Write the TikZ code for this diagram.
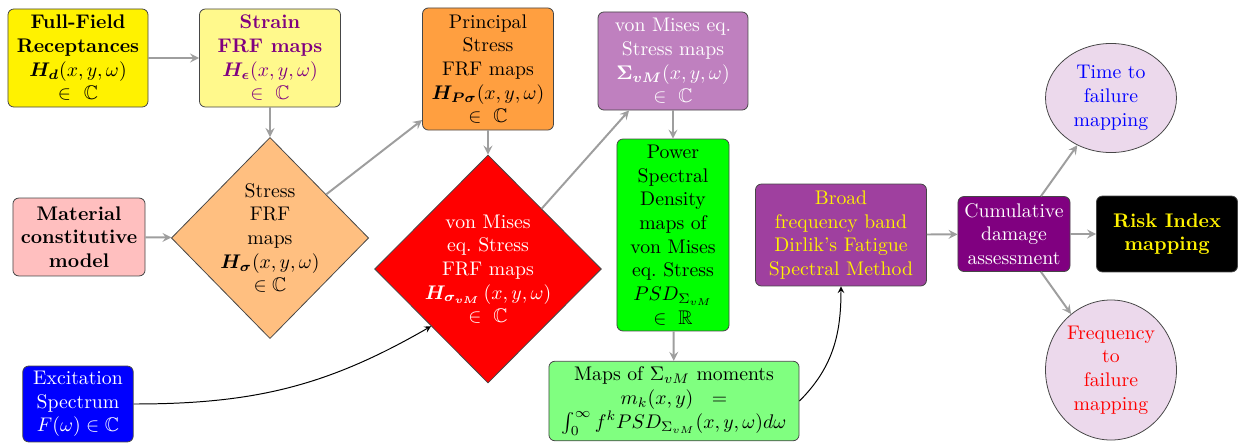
\documentclass[tikz,border=0pt]{standalone}
\usepackage{amsmath, amssymb}
\usepackage{tikz}
\usetikzlibrary{shapes.geometric}
\definecolor{arrowgray}{RGB}{158,158,158}
\definecolor{edgegray}{RGB}{70,70,70}

\begin{document}
\begin{tikzpicture}[x=0.507pt, y=-0.507pt,
	box/.style={rectangle, rounded corners=3pt, draw=edgegray, align=center, inner sep=1pt},
	rhomb/.style={diamond, draw=edgegray, inner sep=0pt},
	oval/.style={ellipse, draw=edgegray, fill=violet!15, align=center, inner sep=0pt},
	flow/.style={-stealth, arrowgray, line width=1pt},
	feed/.style={-stealth, black, line width=0.5pt}]
	\useasboundingbox (0,0) rectangle (1240,442);

	\node[box, fill=yellow, font=\bfseries, minimum width=71pt, minimum height=49.7pt] (ffr) at (78,58)
		{Full-Field\\Receptances\\$\boldsymbol{H_{d}}(x,y,\omega)$\\$\in\ \mathbb{C}$};
	\node[box, fill=yellow!45, text=violet, minimum width=71.5pt, minimum height=49.7pt] (sfm) at (270,58)
		{\textbf{Strain}\\\textbf{FRF maps}\\$\boldsymbol{H_{\epsilon}}(x,y,\omega)$\\$\in\ \mathbb{C}$};
	\node[box, fill=orange!75, minimum width=66.4pt, minimum height=61.9pt] (psm) at (488,69)
		{Principal\\Stress\\FRF maps\\$\boldsymbol{H_{P\sigma}}(x,y,\omega)$\\$\in\ \mathbb{C}$};
	\node[box, fill=violet!50, text=white, minimum width=76pt, minimum height=49.7pt] (vsm) at (673,61)
		{von Mises eq.\\Stress maps\\$\boldsymbol{\Sigma_{vM}}(x,y,\omega)$\\$\in\ \mathbb{C}$};
	\node[box, fill=pink, font=\bfseries, minimum width=67pt, minimum height=39.5pt] (mcm) at (79,237)
		{Material\\constitutive\\model};
	\node[rhomb, fill=orange!50, minimum width=100pt, minimum height=102pt,
		label={[align=center]center:Stress\\FRF\\maps\\$\boldsymbol{H_{\sigma}}(x,y,\omega)$\\$\in\mathbb{C}$}] (sfd) at (270,238) {};
	\node[rhomb, fill=red, minimum width=115pt, minimum height=115.6pt,
		label={[align=center, text=white]center:von Mises\\eq.\ Stress\\FRF maps\\$\boldsymbol{H_{\sigma_{vM}}}\,(x,y,\omega)$\\$\in\ \mathbb{C}$}] (vfd) at (488,269) {};
	\node[box, fill=green, minimum width=56.8pt, minimum height=97.3pt] (psd) at (673,235)
		{Power\\Spectral\\Density\\maps of\\von Mises\\eq.\ Stress\\$PSD_{\Sigma_{vM}}$\\$\in\ \mathbb{R}$};
	\node[box, fill=green!50, minimum width=126.8pt, minimum height=40.3pt] (mom) at (674,401)
		{Maps of $\Sigma_{vM}$ moments\\$m_k(x,y)\ \ =$\\$\int_0^\infty f^k PSD_{\Sigma_{vM}}(x,y,\omega)d\omega$};
	\node[box, fill=blue, text=white, minimum width=56pt, minimum height=38.5pt] (exc) at (78,404)
		{Excitation\\Spectrum\\$F(\omega)\in\mathbb{C}$};
	\node[box, fill=violet!75, text=yellow, minimum width=86.7pt, minimum height=51.7pt] (dfm) at (841,235)
		{Broad\\frequency band\\Dirlik's Fatigue\\Spectral Method};
	\node[box, fill=violet, text=white, minimum width=56.8pt, minimum height=38pt] (cda) at (1014,234)
		{Cumulative\\damage\\assessment};
	\node[box, fill=black, text=yellow, font=\bfseries, minimum width=71.5pt, minimum height=38.5pt] (rim) at (1167,234)
		{Risk Index\\mapping};
	\node[oval, text=blue, minimum width=66.4pt, minimum height=55.3pt] (tfm) at (1111,98)
		{Time to\\failure\\mapping};
	\node[oval, text=red, minimum width=66.4pt, minimum height=71pt] (ffm) at (1111,370)
		{Frequency\\to\\failure\\mapping};

	\draw[flow] (ffr) -- (sfm);
	\draw[flow] (sfm) -- (sfd);
	\draw[flow] (mcm) -- (sfd);
	\draw[flow] (sfd) -- (psm);
	\draw[flow] (psm) -- (vfd);
	\draw[flow] (vfd) -- (vsm);
	\draw[flow] (vsm) -- (psd);
	\draw[flow] (psd) -- (mom);
	\draw[flow] (dfm) -- (cda);
	\foreach \t in {tfm, rim, ffm}
		\draw[flow] (cda) -- (\t);
	\draw[feed] (exc.east) to[out=0, in=-150] (vfd.south west);
	\draw[feed] (mom.east) to[out=45, in=-90] (dfm.south);
\end{tikzpicture}
\end{document}
